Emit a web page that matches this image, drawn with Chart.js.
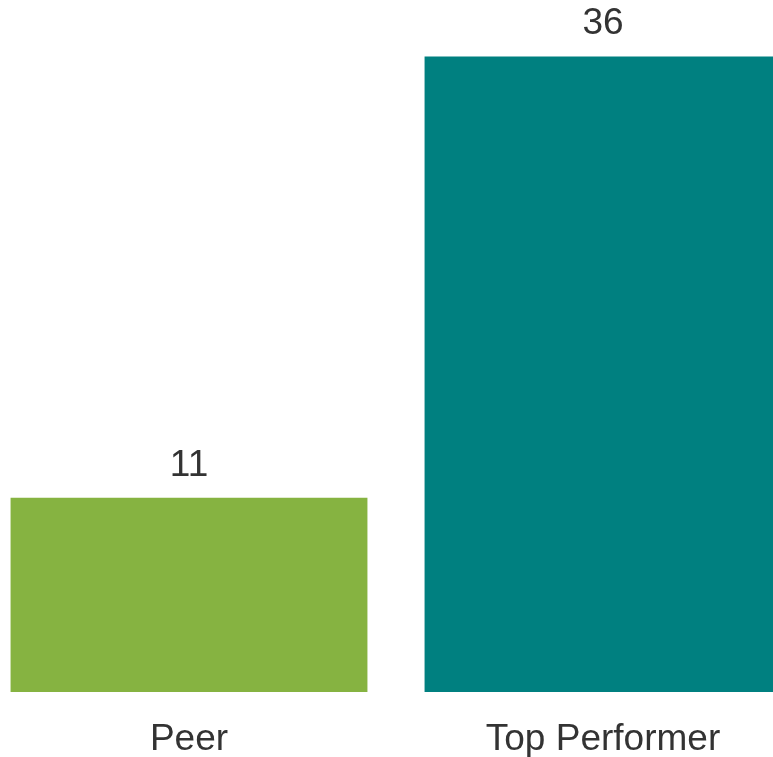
<!DOCTYPE html>
<html>
<head>
<meta charset="utf-8">
<script src="https://cdn.jsdelivr.net/npm/chart.js@4"></script>
<style>
html,body{margin:0;padding:0;background:#fff;overflow:hidden;width:773px;height:757px;}
#wrap{position:absolute;left:-18px;top:0;width:828px;height:788px;}
</style>
</head>
<body>
<div id="wrap"><canvas id="c" width="828" height="788"></canvas></div>
<script>
const categories = ["Peer", "Top Performer"];
const values = [11, 36];
const barColors = ["#86B341", "#008080"];

const valueLabels = {
  id: 'valueLabels',
  afterDatasetsDraw(chart) {
    const ctx = chart.ctx;
    const meta = chart.getDatasetMeta(0);
    ctx.save();
    ctx.font = '37px "Liberation Sans", Arial, sans-serif';
    ctx.fillStyle = '#333333';
    ctx.textAlign = 'center';
    ctx.textBaseline = 'alphabetic';
    meta.data.forEach((bar, i) => {
      ctx.fillText(String(values[i]), bar.x, bar.y - 22);
    });
    ctx.restore();
  }
};

new Chart(document.getElementById('c'), {
  type: 'bar',
  data: {
    labels: categories,
    datasets: [{
      data: values,
      backgroundColor: barColors,
      borderWidth: 0,
      categoryPercentage: 1,
      barPercentage: 0.862
    }]
  },
  options: {
    responsive: false,
    animation: false,
    layout: { padding: { top: 0, bottom: 1, left: 0, right: 0 } },
    plugins: { legend: { display: false }, tooltip: { enabled: false } },
    scales: {
      x: {
        grid: { display: false, drawTicks: false },
        border: { display: false },
        ticks: {
          color: '#333333',
          padding: 29,
          font: { family: '"Liberation Sans", Arial, sans-serif', size: 37, lineHeight: 1 }
        }
      },
      y: {
        display: false,
        min: 0,
        max: 39.2
      }
    }
  },
  plugins: [valueLabels]
});
</script>
</body>
</html>
